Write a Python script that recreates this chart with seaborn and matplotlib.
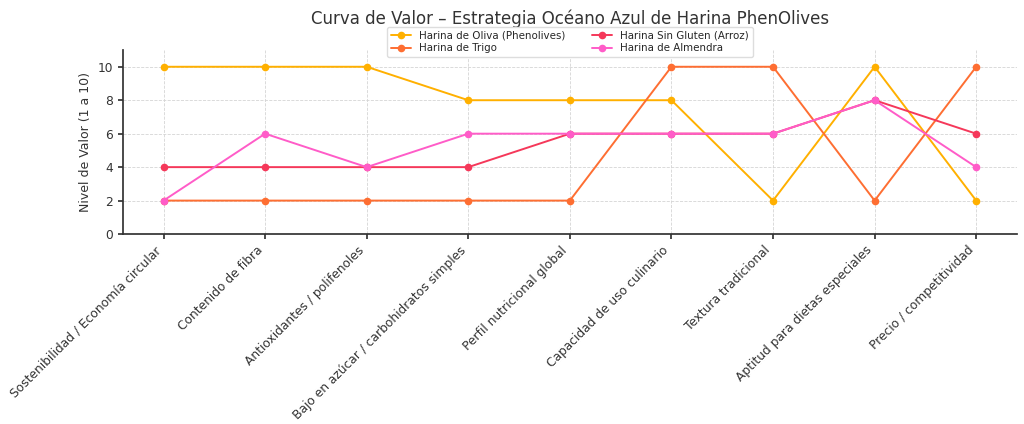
import matplotlib
matplotlib.use("Agg")
import matplotlib.pyplot as plt
import pandas as pd
import seaborn as sns

sns.set_theme(style="ticks")
plt.rcParams["font.family"] = ["DejaVu Sans"]

criterios = [
    "Sostenibilidad / Economía circular",
    "Contenido de fibra",
    "Antioxidantes / polifenoles",
    "Bajo en azúcar / carbohidratos simples",
    "Perfil nutricional global",
    "Capacidad de uso culinario",
    "Textura tradicional",
    "Aptitud para dietas especiales",
    "Precio / competitividad",
]
oliva = [10, 10, 10, 8, 8, 8, 2, 10, 2]
trigo = [2, 2, 2, 2, 2, 10, 10, 2, 10]
sin_gluten = [4, 4, 4, 4, 6, 6, 6, 8, 6]
almendra = [2, 6, 4, 6, 6, 6, 6, 8, 4]

series = {
    "Harina de Oliva (Phenolives)": oliva,
    "Harina de Trigo": trigo,
    "Harina Sin Gluten (Arroz)": sin_gluten,
    "Harina de Almendra": almendra,
}
colores = ["#FFB000", "#FE6E32", "#F5385A", "#FF5CC8"]

df = pd.DataFrame(series, index=criterios).reset_index(names="criterio")
df = df.melt(id_vars="criterio", var_name="producto", value_name="valor")

fig, ax = plt.subplots(figsize=(10.24, 4.24), dpi=100)
sns.lineplot(
    data=df, x="criterio", y="valor", hue="producto",
    palette=colores, marker="o", markersize=5.5, markeredgewidth=0,
    linewidth=1.4, sort=False, ax=ax,
)

ax.set_title("Curva de Valor – Estrategia Océano Azul de Harina PhenOlives",
             fontsize=12, color="#333333", pad=19)
ax.set_xlabel("")
ax.set_ylabel("Nivel de Valor (1 a 10)", fontsize=9, color="#333333")
ax.set_xlim(-0.4, 8.4)
ax.set_ylim(0, 11)
ax.set_yticks([0, 2, 4, 6, 8, 10])
ax.tick_params(axis="both", labelsize=8.8, colors="#333333", length=3.5)
plt.setp(ax.get_xticklabels(), rotation=45, ha="right")
ax.grid(True, linestyle="--", color="#d5d5d5", linewidth=0.6)
sns.despine(ax=ax)
for s in ["left", "bottom"]:
    ax.spines[s].set_color("#333333")

ax.legend(ncol=2, fontsize=7.4, loc="upper center", bbox_to_anchor=(0.5, 1.155),
          frameon=True, framealpha=1, edgecolor="#dddddd",
          columnspacing=2.5, handlelength=2, borderpad=0.35,
          labelspacing=0.3)

fig.subplots_adjust(left=0.12, right=0.993, top=0.882, bottom=0.448)
fig.savefig("out.png", dpi=100)
